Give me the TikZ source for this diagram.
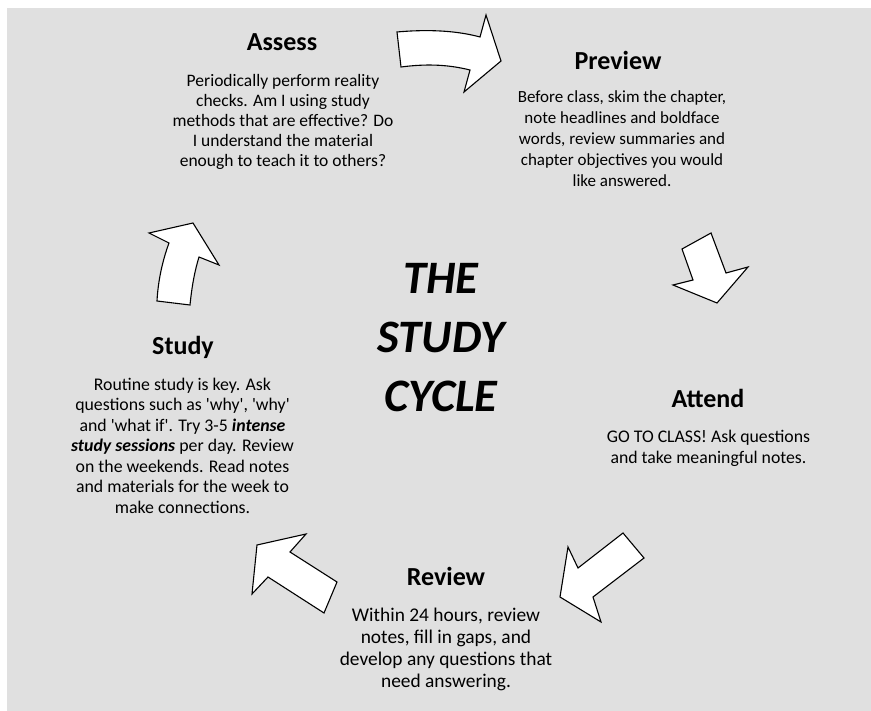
\documentclass[tikz,border=0pt]{standalone}
\usepackage{fontspec}
\setmainfont{Carlito}
\usepackage{xcolor}
\definecolor{panelgray}{HTML}{E0E0E0}
\newcommand{\sq}{\textquotesingle}
\newcommand{\bi}[1]{\textbf{\textit{#1}}}
\tikzset{
  steptitle/.style={font=\fontsize{26}{30}\selectfont\bfseries, inner sep=0pt},
  stepbody/.style={font=\fontsize{17.5}{20}\selectfont, align=center, inner sep=0pt, anchor=north},
  cyclearrow/.style={draw=black, fill=white, line width=1.1pt, line join=miter},
}

\begin{document}
\begin{tikzpicture}[x=1pt,y=-1pt]
\useasboundingbox (0,0) rectangle (871,711);
\fill[panelgray] (7,8) rectangle (871,711);
%
\node[font=\fontsize{46.5}{59}\selectfont\bfseries\itshape, align=center, inner sep=0pt] (cycle) at (441,338) {THE\\STUDY\\CYCLE};
%
\node[steptitle] (assess) at (282,42) {Assess};
\node[stepbody] (assessText) at (283,74) {Periodically perform reality\\checks. Am I using study\\methods that are effective? Do\\I understand the material\\enough to teach it to others?};
\node[steptitle] (preview) at (618,60) {Preview};
\node[stepbody, font=\fontsize{17}{21}\selectfont] (previewText) at (622,90) {Before class, skim the chapter,\\note headlines and boldface\\words, review summaries and\\chapter objectives you would\\like answered.};
\node[steptitle] (attend) at (708,398) {Attend};
\node[stepbody, font=\fontsize{17.75}{21}\selectfont] (attendText) at (708.5,430) {GO TO CLASS! Ask questions\\and take meaningful notes.};
\node[steptitle] (review) at (446,576) {Review};
\node[stepbody, font=\fontsize{19.4}{22}\selectfont] (reviewText) at (446,608) {Within 24 hours, review\\notes, fill in gaps, and\\develop any questions that\\need answering.};
\node[steptitle] (study) at (183,347) {Study};
\node[stepbody, font=\fontsize{17.8}{20.5}\selectfont] (studyText) at (182.5,377.5) {Routine study is key. Ask\\questions such as \sq why\sq, \sq why\sq\\and \sq what if\sq. Try 3-5 \bi{intense}\\\bi{study sessions} per day. Review\\on the weekends. Read notes\\and materials for the week to\\make connections.};
%
\draw[cyclearrow] (397,32) .. controls (430,29) and (458,31) .. (480,37) -- (486,15) -- (501,61) -- (464,92) -- (470,70) .. controls (446,64) and (424,64) .. (401,67) -- cycle;
\draw[cyclearrow] (682,249) -- (711,233) -- (726,273) -- (748,267) -- (717,303) -- (673,285) -- (693,280) -- cycle;
\draw[cyclearrow] (623,533) -- (644,558) -- (593,597) -- (601,622) -- (560,597) -- (568,547) -- (578,568) -- cycle;
\draw[cyclearrow] (324,613) -- (337,582) -- (290,552) -- (306,534) -- (257,545) -- (252,594) -- (268,577) -- cycle;
\draw[cyclearrow] (157,301) -- (190,305) .. controls (192,285) and (195,270) .. (199,257) -- (219,265) -- (193,223) -- (149,233) -- (169,243) .. controls (162,262) and (158,282) .. (157,301) -- cycle;
\end{tikzpicture}
\end{document}
